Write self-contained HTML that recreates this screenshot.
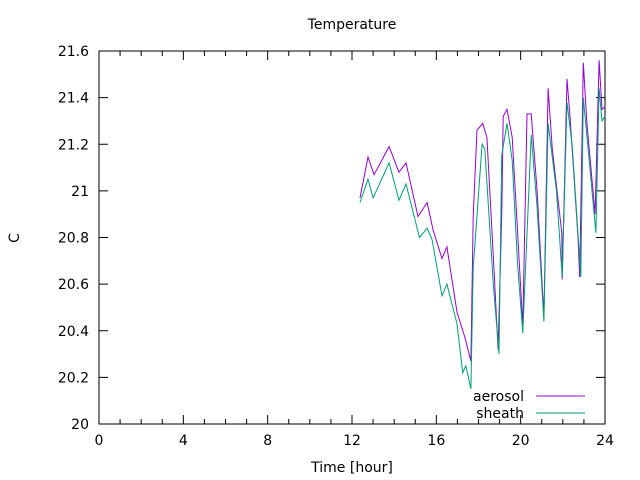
<!DOCTYPE html>
<html><head><meta charset="utf-8"><style>
body{margin:0;background:#fff}
svg{display:block;font-family:"DejaVu Sans","Liberation Sans",sans-serif}
</style></head><body>
<svg id="chart" width="640" height="480" viewBox="0 0 640 480" xmlns="http://www.w3.org/2000/svg">
<text x="352" y="29" font-size="14" text-anchor="middle">Temperature</text>
<text x="19" y="238" font-size="14" text-anchor="middle" transform="rotate(-90 19 238)">C</text>
<text x="352" y="472" font-size="14" text-anchor="middle">Time [hour]</text>
<g id="axes"></g>
<g id="series"></g>
<g>
<text x="524" y="401" font-size="14" text-anchor="end">aerosol</text>
<line x1="536" y1="396" x2="585" y2="396" stroke="#9400d3" stroke-width="1"/>
<text x="524" y="418" font-size="14" text-anchor="end">sheath</text>
<line x1="536" y1="413" x2="585" y2="413" stroke="#009e73" stroke-width="1"/>
</g>
</svg>
<script>
const xTicks=[0,4,8,12,16,20,24];
const yTicks=[20,20.2,20.4,20.6,20.8,21,21.2,21.4,21.6];
const yTickLabels=["20","20.2","20.4","20.6","20.8","21","21.2","21.4","21.6"];
const aerosolT=[12.38,12.76,13.05,13.76,14.23,14.56,15.13,15.56,15.85,16.27,16.5,16.98,17.36,17.64,17.75,17.93,18.2,18.4,18.7,18.93,19.1,19.17,19.35,19.6,19.83,20.1,20.3,20.5,20.78,21.1,21.3,21.5,21.95,21.97,22.2,22.34,22.72,22.8,22.97,23.14,23.53,23.72,23.86,24];
const aerosolV=[20.97,21.145,21.07,21.19,21.08,21.12,20.89,20.95,20.83,20.71,20.76,20.48,20.37,20.27,20.89,21.26,21.29,21.23,20.72,20.32,20.89,21.32,21.35,21.23,20.86,20.42,21.33,21.33,21.0,20.46,21.44,21.18,20.82,20.62,21.48,21.32,20.8,20.63,21.55,21.29,20.9,21.56,21.35,21.36];
const sheathT=[12.38,12.76,13.0,13.76,14.23,14.56,15.2,15.56,15.8,16.27,16.5,16.98,17.25,17.4,17.64,17.75,18.17,18.3,18.7,18.97,19.1,19.35,19.6,19.85,20.1,20.5,20.78,21.1,21.3,21.7,21.97,22.2,22.45,22.85,22.97,23.25,23.57,23.72,23.86,24];
const sheathV=[20.95,21.05,20.97,21.12,20.96,21.03,20.80,20.84,20.79,20.55,20.60,20.43,20.22,20.25,20.15,20.67,21.2,21.18,20.6,20.3,21.15,21.29,21.13,20.69,20.39,21.24,20.93,20.44,21.29,21.0,20.63,21.38,21.19,20.63,21.40,21.13,20.82,21.44,21.3,21.32];
const L=99,R=605,T=51,B=424;
const xS=t=>L+(t-0)/24*(R-L);
const yS=v=>B-(v-20)/1.6*(B-T);
const NS="http://www.w3.org/2000/svg";
const ax=document.getElementById('axes');
function mk(tag,attrs,parent){const e=document.createElementNS(NS,tag);for(const k in attrs)e.setAttribute(k,attrs[k]);parent.appendChild(e);return e;}
let fr=mk('rect',{x:L,y:T,width:R-L,height:B-T,fill:'none',stroke:'#000','stroke-width':1},ax);


for(let h=0;h<=24;h++){
 const x=xS(h),len=(h%4===0)?9:5;
 let t1=mk('line',{x1:x,y1:B,x2:x,y2:B-len,stroke:'#000'},ax);
 
 
 let t2=mk('line',{x1:x,y1:T,x2:x,y2:T+len,stroke:'#000'},ax);
 
 
}
xTicks.forEach(v=>{
 let t=mk('text',{x:xS(v),y:B+21,'font-size':14,'text-anchor':'middle'},ax);t.textContent=String(v);
 
 
});
yTicks.forEach((v,i)=>{
 const y=yS(v);
 let a=mk('line',{x1:L,y1:y,x2:L+9,y2:y,stroke:'#000'},ax);
 
 
 let b=mk('line',{x1:R,y1:y,x2:R-9,y2:y,stroke:'#000'},ax);
 
 
 let t=mk('text',{x:L-10,y:y+5,'font-size':14,'text-anchor':'end'},ax);t.textContent=yTickLabels[i];
 
 
});
const sg=document.getElementById('series');
function line(ts,vs,color,name){
 const d=ts.map((t,i)=>(i?'L':'M')+xS(t).toFixed(1)+','+yS(vs[i]).toFixed(1)).join('');
 let p=mk('path',{d:d,fill:'none',stroke:color,'stroke-width':1},sg);
 
 
}
line(aerosolT,aerosolV,'#9400d3','aerosol-line');
line(sheathT,sheathV,'#009e73','sheath-line');
</script>
</body></html>
